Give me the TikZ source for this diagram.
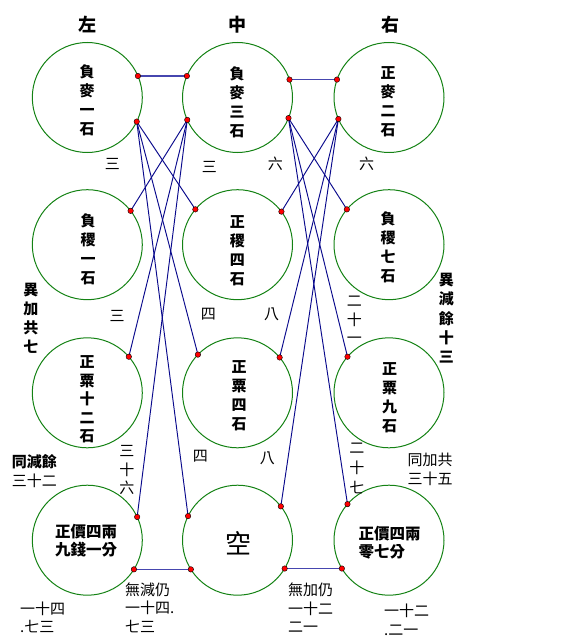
\documentclass[tikz,border=0pt]{standalone}
\usepackage{fontspec}
\setmainfont{Noto Sans CJK TC}
\definecolor{circgreen}{RGB}{20,130,20}
\definecolor{linkblue}{RGB}{10,10,140}
\definecolor{hblue}{RGB}{70,70,175}
\begin{document}
\begin{tikzpicture}[x=1pt,y=-1pt,
  circ/.style={circle,draw=circgreen,line width=1pt,minimum size=110pt,inner sep=0pt,outer sep=0pt},
  link/.style={draw=linkblue,line width=0.95pt},
  hlink/.style={draw=hblue,line width=1.3pt},
  dot/.style={circle,fill=red,draw=black,line width=0.4pt,minimum size=5.5pt,inner sep=0pt},
  vtxt/.style={align=center,inner sep=0pt,font=\fontsize{15}{19}\selectfont\bfseries},
  vtxtb/.style={align=center,inner sep=0pt,font=\fontsize{15}{18.6}\selectfont\bfseries},
  lab/.style={inner sep=0pt,font=\fontsize{15}{18}\selectfont},
  labb/.style={inner sep=0pt,font=\fontsize{15}{18}\selectfont\bfseries},
  head/.style={inner sep=0pt,font=\fontsize{18}{20}\selectfont\bfseries},
  ltxt/.style={align=left,inner sep=0pt,font=\fontsize{15}{18.5}\selectfont},
  ctxt/.style={align=left,inner sep=0pt,font=\fontsize{15.5}{18}\selectfont\bfseries}
]
\useasboundingbox (0,0) rectangle (568,639);
% circles
\node[circ] (L1) at (87.3,97.5) {};
\node[circ] (M1) at (237.5,97.5) {};
\node[circ] (R1) at (389,97.5) {};
\node[circ] (L2) at (87.3,244.7) {};
\node[circ] (M2) at (237.5,244.7) {};
\node[circ] (R2) at (389,244.7) {};
\node[circ] (L3) at (87.3,392.8) {};
\node[circ] (M3) at (237.5,392.8) {};
\node[circ] (R3) at (389,392.8) {};
\node[circ] (L4) at (87.3,540.2) {};
\node[circ] (M4) at (237.5,540.2) {};
\node[circ] (R4) at (389,540.2) {};
% connection points
\coordinate (L1a) at (L1.23);
\coordinate (L1b) at (L1.-26);
\coordinate (M1a) at (M1.157);
\coordinate (M1b) at (M1.204);
\coordinate (M1c) at (M1.19);
\coordinate (M1d) at (M1.-22);
\coordinate (R1a) at (R1.161);
\coordinate (R1b) at (R1.203);
\coordinate (L2a) at (L2.38);
\coordinate (M2a) at (M2.140);
\coordinate (M2b) at (M2.37.5);
\coordinate (R2a) at (R2.140);
\coordinate (L3a) at (L3.41);
\coordinate (M3a) at (M3.136);
\coordinate (M3b) at (M3.40);
\coordinate (R3a) at (R3.139);
\coordinate (L4a) at (L4.25);
\coordinate (L4b) at (L4.-32);
\coordinate (M4a) at (M4.154);
\coordinate (M4c) at (M4.212);
\coordinate (M4b) at (M4.38);
\coordinate (M4d) at (M4.-31);
\coordinate (R4a) at (R4.139);
\coordinate (R4b) at (R4.211);
% connectors
\draw[hlink] (L1a) -- (M1a);
\draw[hlink] (M1c) -- (R1a);
\draw[hlink] (L4b) -- (M4c);
\draw[hlink] (M4d) -- (R4b);
\draw[link] (L1b) -- (M2a);
\draw[link] (L1b) -- (M3a);
\draw[link] (L1b) -- (M4a);
\draw[link] (M1b) -- (L2a);
\draw[link] (M1b) -- (L3a);
\draw[link] (M1b) -- (L4a);
\draw[link] (M1d) -- (R2a);
\draw[link] (M1d) -- (R3a);
\draw[link] (M1d) -- (R4a);
\draw[link] (R1b) -- (M2b);
\draw[link] (R1b) -- (M3b);
\draw[link] (R1b) -- (M4b);
% dots
\foreach \p in {L1a,L1b,M1a,M1b,M1c,M1d,R1a,R1b,L2a,M2a,M2b,R2a,L3a,M3a,M3b,R3a,L4a,L4b,M4a,M4b,M4c,M4d,R4a,R4b}
  \node[dot] at (\p) {};
% headers
\node[head] (hL) at (87,25) {左};
\node[head] (hM) at (237,25) {中};
\node[head] (hR) at (390,25) {右};
% circle texts
\node[vtxt] (tL1) at (87,100.5) {負\\麥\\一\\石};
\node[vtxt] (tM1) at (237,102) {負\\麥\\三\\石};
\node[vtxt] (tR1) at (388,102) {正\\麥\\二\\石};
\node[vtxt] (tL2) at (88,249.5) {負\\稷\\一\\石};
\node[vtxt] (tM2) at (237.3,250.5) {正\\稷\\四\\石};
\node[vtxt] (tR2) at (388,247.5) {負\\稷\\七\\石};
\node[vtxtb] (tL3) at (87,399.5) {正\\粟\\十\\二\\石};
\node[vtxt] (tM3) at (239,396) {正\\粟\\四\\石};
\node[vtxt] (tR3) at (389.5,397.5) {正\\粟\\九\\石};
\node[ctxt,align=center] (tL4) at (86,540.5) {正價四兩\\九錢一分};
\node[inner sep=0pt,font=\fontsize{26}{28}\selectfont] (tM4) at (238,543) {空};
\node[ctxt,anchor=west] (tR4) at (358.5,542.3) {正價四兩\\零七分};
% labels between circles
\node[lab] (a1) at (112.3,164.3) {三};
\node[lab] (a2) at (209.4,166.7) {三};
\node[lab] (a3) at (275.4,163.3) {六};
\node[lab] (a4) at (366.7,164) {六};
\node[lab] (b1) at (117,316) {三};
\node[lab] (b2) at (208.3,314.3) {四};
\node[lab] (b3) at (271.7,314) {八};
\node[lab,align=center,font=\fontsize{15}{18.3}\selectfont] (b4) at (354.3,320) {二\\十\\一};
\node[labb,align=center,font=\fontsize{15}{19}\selectfont\bfseries] (s1) at (30.8,318.3) {異\\加\\共\\七};
\node[labb,align=center,font=\fontsize{15}{19.2}\selectfont\bfseries] (s2) at (446.4,318.3) {異\\減\\餘\\十\\三};
\node[ltxt,align=center] (s3) at (34.4,471) {\textbf{同減餘}\\三十二};
\node[lab,align=center,font=\fontsize{15}{18.3}\selectfont] (c1) at (126.8,470) {三\\十\\六};
\node[lab] (c2) at (200.4,456.7) {四};
\node[lab] (c3) at (267.4,458.3) {八};
\node[lab,align=center,font=\fontsize{15}{20}\selectfont] (c4) at (356.9,468) {二\\十\\七};
\node[ltxt,align=center] (s4) at (430,469.2) {同加共\\三十五};
% bottom texts
\node[ltxt,anchor=west] (e1) at (125,607.7) {無減仍\\一十四.\\七三};
\node[ltxt,anchor=west] (e2) at (20,617.5) {一十四\\.七三};
\node[ltxt,anchor=west] (e3) at (288,607.8) {無加仍\\一十二\\二一};
\node[ltxt,anchor=west] (e4) at (384,620) {一十二\\.二一};
\end{tikzpicture}
\end{document}
